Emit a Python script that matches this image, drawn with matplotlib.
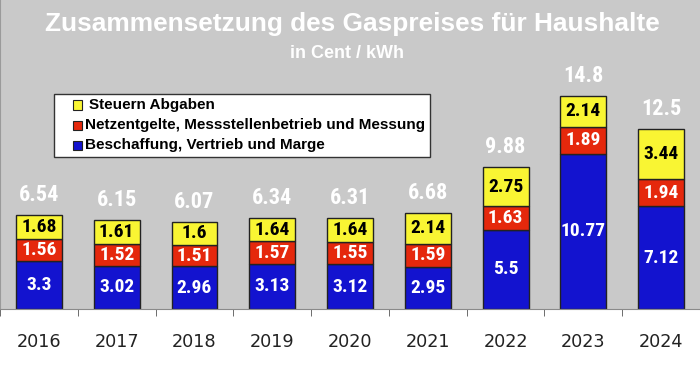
import matplotlib.pyplot as plt
from matplotlib.patches import Rectangle

years = ["2016", "2017", "2018", "2019", "2020", "2021", "2022", "2023", "2024"]
beschaffung = [3.3, 3.02, 2.96, 3.13, 3.12, 2.95, 5.5, 10.77, 7.12]
netz = [1.56, 1.52, 1.51, 1.57, 1.55, 1.59, 1.63, 1.89, 1.94]
steuern = [1.68, 1.61, 1.6, 1.64, 1.64, 2.14, 2.75, 2.14, 3.44]
totals = [6.54, 6.15, 6.07, 6.34, 6.31, 6.68, 9.88, 14.8, 12.5]

series_names = ["Steuern Abgaben",
                "Netzentgelte, Messstellenbetrieb und Messung",
                "Beschaffung, Vertrieb und Marge"]

c_yellow = "#f9f533"
c_red = "#e5280c"
c_blue = "#1313cf"
c_bg = "#c9c9c9"

narrow = ["Roboto Condensed", "Liberation Sans", "DejaVu Sans"]
arial = ["Liberation Sans", "DejaVu Sans"]

W, H = 700, 367
fig = plt.figure(figsize=(7, 3.67), dpi=100)
fig.patch.set_facecolor("white")

# gray plot area reaches from the top of the picture down to the baseline
ax = fig.add_axes([0, 58 / H, 1, 309 / H])
ax.set_facecolor(c_bg)

x = list(range(len(years)))
bw = 0.59
ax.bar(x, beschaffung, bw, color=c_blue, edgecolor="#222222", linewidth=1)
bottom2 = [b for b in beschaffung]
ax.bar(x, netz, bw, bottom=bottom2, color=c_red, edgecolor="#222222", linewidth=1)
bottom3 = [b + n for b, n in zip(beschaffung, netz)]
ax.bar(x, steuern, bw, bottom=bottom3, color=c_yellow, edgecolor="#222222", linewidth=1)

for i in x:
    ax.text(i, beschaffung[i] / 2, f"{beschaffung[i]:g}", ha="center", va="center",
            color="white", fontsize=14, fontweight="bold", family=narrow)
    ax.text(i, bottom2[i] + netz[i] / 2, f"{netz[i]:g}", ha="center", va="center",
            color="white", fontsize=14, fontweight="bold", family=narrow)
    ax.text(i, bottom3[i] + steuern[i] / 2, f"{steuern[i]:g}", ha="center", va="center",
            color="black", fontsize=14, fontweight="bold", family=narrow)
    ax.annotate(f"{totals[i]:g}", (i, bottom3[i] + steuern[i]), xytext=(0, 14.4),
                textcoords="offset points", ha="center", va="center",
                color="white", fontsize=16, fontweight="bold", family=narrow)

ax.set_xlim(-0.5, len(years) - 0.5)
ax.set_ylim(0, 309 / 14.4)
ax.set_yticks([])
ax.set_xticks(x)
ax.set_xticklabels(years, fontsize=12.7, color="#222222", family="DejaVu Sans")
ax.set_xticks([i - 0.5 for i in range(len(years) + 1)], minor=True)
ax.tick_params(axis="x", which="major", length=0, pad=17)
ax.tick_params(axis="x", which="minor", length=5, color="#555555", direction="out")
for s in ["top", "right"]:
    ax.spines[s].set_visible(False)
ax.spines["bottom"].set_color("#8a8a8a")
ax.spines["left"].set_color("#9a9a9a")

# title
fig.text(352 / W, 1 - 24 / H, "Zusammensetzung des Gaspreises für Haushalte",
         ha="center", va="center", color="white", fontsize=18.9, fontweight="bold",
         family=arial)
fig.text(347 / W, 1 - 54 / H, "in Cent / kWh", ha="center", va="center",
         color="white", fontsize=13, fontweight="bold", family=arial)

# legend box
lx0, ly0, lx1, ly1 = 54, 94, 430, 157
fig.patches.append(Rectangle((lx0 / W, 1 - ly1 / H), (lx1 - lx0) / W, (ly1 - ly0) / H,
                             transform=fig.transFigure, facecolor="white",
                             edgecolor="#333333", linewidth=1))
rows = [(105, c_yellow, 89), (125, c_red, 85), (145, c_blue, 85)]
for (yc, col, tx), name in zip(rows, series_names):
    fig.patches.append(Rectangle((73 / W, 1 - (yc + 4.5) / H), 9 / W, 9 / H,
                                 transform=fig.transFigure, facecolor=col,
                                 edgecolor="#222222", linewidth=0.8))
    fig.text(tx / W, 1 - yc / H, name, ha="left", va="center", color="black",
             fontsize=11, fontweight="bold", family=arial)

fig.savefig("out.png", dpi=100, facecolor=fig.get_facecolor())
